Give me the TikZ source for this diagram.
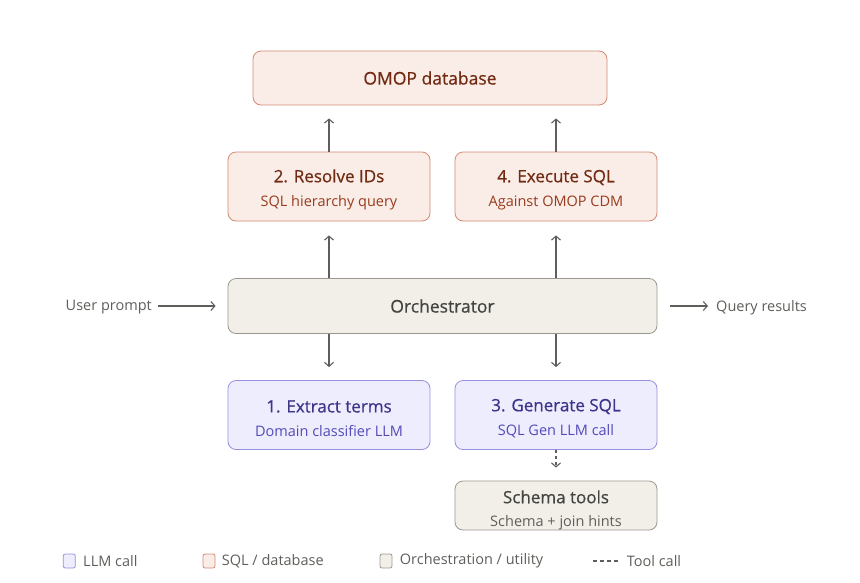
\documentclass[tikz,border=0pt]{standalone}
\usepackage{fontspec}
\setmainfont{Open Sans}
\newfontfamily\medfont{Open Sans}[FakeBold=0.6]
\definecolor{sqlfill}{HTML}{FAECE7}
\definecolor{sqldraw}{HTML}{D38B74}
\definecolor{sqltitle}{HTML}{712B13}
\definecolor{sqlsub}{HTML}{993C1D}
\definecolor{llmfill}{HTML}{EEEDFE}
\definecolor{llmdraw}{HTML}{9690DE}
\definecolor{llmtitle}{HTML}{3C3489}
\definecolor{llmsub}{HTML}{534AB7}
\definecolor{utilfill}{HTML}{F1EFE8}
\definecolor{utildraw}{HTML}{9A9890}
\definecolor{utiltitle}{HTML}{444441}
\definecolor{utilsub}{HTML}{5F5E5A}
\definecolor{linecol}{HTML}{5F5E5A}
\usetikzlibrary{positioning, arrows.meta}

% title line of a two-line box, with some air above it
\newcommand{\boxtitle}[3][19pt]{{\medfont\fontsize{17}{21}\selectfont\color{#2}\rule{0pt}{#1}#3}}

\begin{document}
\begin{tikzpicture}[
  x=1pt, y=-1pt,
  box/.style={draw, rounded corners=8pt, line width=0.8pt, align=center,
    minimum width=202pt, minimum height=69pt, inner sep=0pt,
    font=\fontsize{14.5}{24}\selectfont},
  sqlbox/.style={box, fill=sqlfill, draw=sqldraw},
  llmbox/.style={box, fill=llmfill, draw=llmdraw},
  utilbox/.style={box, fill=utilfill, draw=utildraw},
  ttl/.style={font=\medfont\fontsize{17.5}{21}\selectfont},
  flow/.style={draw=linecol, line width=1.1pt,
    -{Straight Barb[length=4pt, width=9pt, line width=1.1pt]}},
  side/.style={font=\fontsize{14.5}{17}\selectfont, text=utilsub},
  legbox/.style={draw, rounded corners=2pt, line width=0.8pt,
    minimum width=12pt, minimum height=14pt, inner sep=0pt},
]
\useasboundingbox (0,0) rectangle (860,582);

% database
\node[sqlbox, minimum width=354pt, minimum height=54pt, text=sqltitle, ttl]
  (omop) at (430,78) {OMOP database};

% SQL steps
\node[sqlbox] (resolve) at (329,186.5)
  {\boxtitle{sqltitle}{2. Resolve IDs}\\
   {\color{sqlsub}SQL hierarchy query}};
\node[sqlbox] (execute) at (556,186.5)
  {\boxtitle{sqltitle}{4. Execute SQL}\\
   {\color{sqlsub}Against OMOP CDM}};

% orchestrator
\node[utilbox, minimum width=429pt, minimum height=55pt, text=utiltitle, ttl]
  (orch) at (442.5,306) {Orchestrator};

% LLM steps
\node[llmbox] (extract) at (329,415)
  {\boxtitle{llmtitle}{1. Extract terms}\\
   {\color{llmsub}Domain classifier LLM}};
\node[llmbox] (generate) at (556,415)
  {\boxtitle{llmtitle}{3. Generate SQL}\\
   {\color{llmsub}SQL Gen LLM call}};

% tools
\node[utilbox, minimum height=49pt, font=\fontsize{14.5}{23}\selectfont] (schema) at (556,505.5)
  {\boxtitle[22pt]{utiltitle}{Schema tools}\\
   {\color{utilsub}Schema + join hints}};

% input / output
\node[side, anchor=east, inner sep=0pt] (user) at (152,307.5) {User prompt};
\node[side, anchor=west, inner sep=0pt] (result) at (716,307.5) {Query results};

% connectors
\draw[flow, shorten >=13pt] (resolve.north) -- (resolve.north |- omop.south);
\draw[flow, shorten >=13pt] (execute.north) -- (execute.north |- omop.south);
\draw[flow, shorten >=14pt] (orch.north -| resolve) -- (resolve.south);
\draw[flow, shorten >=14pt] (orch.north -| execute) -- (execute.south);
\draw[flow, shorten >=13pt] (orch.south -| extract) -- (extract.north);
\draw[flow, shorten >=13pt] (orch.south -| generate) -- (generate.north);
\draw[flow, dashed, dash pattern=on 3pt off 3pt, shorten >=13pt]
  (generate.south) -- (schema.north);
\draw[flow, shorten <=6pt, shorten >=12pt] (user.east |- orch.west) -- (orch.west);
\draw[flow, shorten <=13pt, shorten >=8pt] (orch.east) -- (result.west |- orch.east);

% legend
\node[legbox, fill=llmfill, draw=llmdraw] (kLLM) at (69.3,561) {};
\node[side, right=4pt of kLLM] {LLM call};
\node[legbox, fill=sqlfill, draw=sqldraw] (kSQL) at (209,561) {};
\node[side, right=3pt of kSQL] {SQL / database};
\node[legbox, fill=utilfill, draw=utildraw] (kUtil) at (386,561) {};
\node[side, right=4pt of kUtil] {Orchestration / utility};
\coordinate (kTool) at (593,561);
\draw[draw=linecol, line width=1.1pt, dash pattern=on 4pt off 3pt] (kTool) -- ++(27,0)
  node[side, right=3pt] {Tool call};
\end{tikzpicture}
\end{document}
